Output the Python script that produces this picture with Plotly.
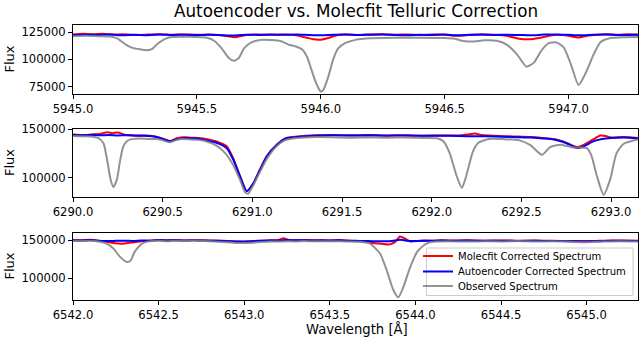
import plotly.graph_objects as go

# ---------------- Panel 1 (5945.0 - 5947.28 A) ----------------
p1_obs_wl = [5945.00, 5945.05, 5945.10, 5945.15, 5945.18, 5945.21, 5945.24, 5945.27, 5945.30, 5945.32,
             5945.34, 5945.37, 5945.40, 5945.45, 5945.50, 5945.54, 5945.57, 5945.60, 5945.63, 5945.65,
             5945.67, 5945.69, 5945.72, 5945.76, 5945.80, 5945.84, 5945.87, 5945.90, 5945.925, 5945.945,
             5945.96, 5945.975, 5945.99, 5946.00, 5946.01, 5946.03, 5946.05, 5946.07, 5946.10, 5946.14,
             5946.20, 5946.30, 5946.40, 5946.50, 5946.54, 5946.57, 5946.61, 5946.66, 5946.71, 5946.75,
             5946.79, 5946.83, 5946.86, 5946.89, 5946.92, 5946.95, 5946.98, 5947.01, 5947.04, 5947.07,
             5947.10, 5947.13, 5947.17, 5947.22, 5947.28]
p1_obs_fx = [121300, 121600, 121200, 120800, 119000, 114000, 110500, 109200, 108400, 109500,
             114000, 118500, 120400, 120600, 120500, 119800, 117000, 110000, 101000, 98700,
             101500, 110000, 115500, 117800, 117600, 116500, 113500, 111700, 109000, 102000,
             92000, 82000, 74000, 70500, 72000, 84000, 100000, 110000, 115000, 117800,
             119200, 119700, 119800, 119500, 118800, 117000, 116200, 117400, 117000, 113500,
             105000, 93300, 97000, 108000, 114800, 115500, 111000, 95000, 76500, 88000,
             104000, 116000, 119500, 120300, 120500]

p1_ae_wl = [5945.00, 5945.05, 5945.10, 5945.15, 5945.20, 5945.25, 5945.30, 5945.35, 5945.40, 5945.45,
            5945.50, 5945.55, 5945.60, 5945.65, 5945.70, 5945.75, 5945.80, 5945.85, 5945.90, 5945.95,
            5946.00, 5946.05, 5946.10, 5946.15, 5946.20, 5946.25, 5946.30, 5946.35, 5946.40, 5946.45,
            5946.50, 5946.55, 5946.60, 5946.65, 5946.70, 5946.75, 5946.80, 5946.85, 5946.90, 5946.95,
            5947.00, 5947.05, 5947.10, 5947.15, 5947.20, 5947.28]
p1_ae_fx = [122200, 122500, 122300, 122600, 122000, 122400, 122100, 122700, 122300, 122500,
            122200, 122400, 122000, 121800, 122500, 122300, 122600, 122400, 122700, 122300,
            122000, 122400, 122600, 122200, 122500, 122700, 122300, 122100, 122400, 122300,
            122600, 122000, 122400, 122700, 122300, 122500, 122200, 122000, 122600, 122800,
            122400, 122000, 122500, 122700, 122300, 122500]

p1_mf_wl = [5945.00, 5945.04, 5945.08, 5945.12, 5945.16, 5945.20, 5945.25, 5945.30, 5945.35, 5945.40,
            5945.45, 5945.50, 5945.55, 5945.60, 5945.65, 5945.70, 5945.75, 5945.80, 5945.85, 5945.90,
            5945.94, 5945.97, 5946.00, 5946.03, 5946.06, 5946.10, 5946.15, 5946.20, 5946.25, 5946.30,
            5946.35, 5946.40, 5946.45, 5946.50, 5946.55, 5946.60, 5946.65, 5946.70, 5946.75, 5946.80,
            5946.84, 5946.88, 5946.92, 5946.96, 5947.00, 5947.04, 5947.08, 5947.12, 5947.16, 5947.20,
            5947.24, 5947.28]
p1_mf_fx = [122800, 123300, 122900, 123400, 122600, 122900, 122300, 122600, 123000, 122500,
            122800, 122400, 122700, 122000, 120300, 122200, 122800, 122400, 122700, 122000,
            120000, 118300, 118000, 119500, 121800, 122600, 122300, 122800, 123000, 122500,
            122700, 122300, 122600, 122400, 121600, 122300, 122700, 122400, 121500, 118800,
            118300, 119500, 121600, 122400, 121500, 120000, 121800, 122500, 122900, 122400,
            123000, 122600]

# ---------------- Panel 2 (6290.0 - 6293.15 A) ----------------
p2_obs_wl = [6290.00, 6290.05, 6290.10, 6290.14, 6290.17, 6290.19, 6290.21, 6290.225, 6290.245, 6290.262,
             6290.28, 6290.30, 6290.32, 6290.37, 6290.42, 6290.47, 6290.51, 6290.54, 6290.57, 6290.60,
             6290.65, 6290.70, 6290.75, 6290.80, 6290.85, 6290.89, 6290.93, 6290.96, 6290.975, 6291.00,
             6291.04, 6291.08, 6291.13, 6291.18, 6291.25, 6291.35, 6291.45, 6291.55, 6291.65, 6291.75,
             6291.85, 6291.95, 6292.03, 6292.065, 6292.10, 6292.14, 6292.168, 6292.19, 6292.23, 6292.26,
             6292.32, 6292.40, 6292.49, 6292.55, 6292.614, 6292.66, 6292.72, 6292.79, 6292.865, 6292.89,
             6292.92, 6292.958, 6292.995, 6293.03, 6293.07, 6293.15]
p2_obs_fx = [143100, 142800, 142600, 141000, 135500, 118300, 97600, 90100, 98000, 117000,
             132000, 137500, 139500, 140500, 140000, 139800, 138000, 136500, 138500, 139800,
             139500, 139000, 137000, 133000, 125000, 114000, 98000, 84500, 83000, 90000,
             105000, 119000, 131500, 138500, 141000, 142000, 141800, 141300, 141600, 141200,
             141500, 141000, 140700, 137500, 125200, 101000, 89000, 100000, 127000, 136000,
             140000, 139800, 138500, 133500, 123500, 131500, 134000, 131000, 130500, 123000,
             102000, 82100, 98000, 125000, 135000, 139500]

p2_ae_wl = [6290.00, 6290.05, 6290.10, 6290.15, 6290.20, 6290.25, 6290.30, 6290.35, 6290.40, 6290.45,
            6290.50, 6290.54, 6290.58, 6290.62, 6290.66, 6290.70, 6290.75, 6290.80, 6290.857, 6290.894,
            6290.931, 6290.969, 6291.006, 6291.043, 6291.08, 6291.136, 6291.19, 6291.25, 6291.35, 6291.45,
            6291.55, 6291.65, 6291.75, 6291.85, 6291.95, 6292.05, 6292.15, 6292.25, 6292.35, 6292.45,
            6292.55, 6292.62, 6292.68, 6292.73, 6292.78, 6292.81, 6292.85, 6292.90, 6292.95, 6293.00,
            6293.07, 6293.15]
p2_ae_fx = [144100, 143900, 144200, 143800, 144000, 143600, 143800, 143400, 143200, 142500,
            140000, 137500, 139800, 141000, 140700, 140200, 138000, 136000, 130400, 118300,
            101000, 85600, 94200, 108000, 121700, 133800, 140700, 142000, 143300, 143800,
            143500, 143700, 143400, 143600, 143200, 143300, 143000, 142700, 142600, 142000,
            141500, 140500, 139500, 137000, 133000, 130500, 132500, 137500, 140000, 141000,
            141500, 140500]

p2_mf_wl = [6290.00, 6290.05, 6290.10, 6290.15, 6290.19, 6290.22, 6290.25, 6290.29, 6290.35, 6290.40,
            6290.45, 6290.50, 6290.54, 6290.58, 6290.62, 6290.66, 6290.70, 6290.75, 6290.80, 6290.857,
            6290.894, 6290.931, 6290.969, 6291.006, 6291.043, 6291.08, 6291.136, 6291.19, 6291.25, 6291.35,
            6291.45, 6291.55, 6291.65, 6291.75, 6291.85, 6291.95, 6292.05, 6292.15, 6292.20, 6292.24,
            6292.28, 6292.35, 6292.45, 6292.55, 6292.62, 6292.68, 6292.73, 6292.78, 6292.81, 6292.85,
            6292.90, 6292.94, 6292.97, 6293.00, 6293.07, 6293.15]
p2_mf_fx = [144500, 144000, 144600, 145200, 146800, 146000, 146700, 144300, 143600, 143500,
            142700, 140300, 137800, 140600, 141800, 141200, 141000, 139800, 137500, 132500,
            119500, 101500, 85800, 94000, 108500, 122000, 134000, 141000, 142500, 143800,
            144200, 143700, 144000, 143600, 143800, 143400, 143600, 143500, 144500, 145600,
            144000, 143200, 142600, 142000, 141000, 140000, 137500, 133500, 131500, 134000,
            139500, 143500, 143000, 141500, 142000, 141000]

# ---------------- Panel 3 (6542.0 - 6545.3 A) ----------------
p3_obs_wl = [6542.00, 6542.05, 6542.10, 6542.15, 6542.197, 6542.236, 6542.275, 6542.313, 6542.335, 6542.36,
             6542.40, 6542.44, 6542.50, 6542.55, 6542.60, 6542.65, 6542.70, 6542.75, 6542.80, 6542.85,
             6542.90, 6542.95, 6543.00, 6543.05, 6543.10, 6543.15, 6543.20, 6543.25, 6543.30, 6543.35,
             6543.40, 6543.45, 6543.50, 6543.60, 6543.68, 6543.735, 6543.793, 6543.832, 6543.871, 6543.90,
             6543.93, 6543.97, 6544.01, 6544.05, 6544.08, 6544.12, 6544.20, 6544.30, 6544.40, 6544.50,
             6544.60, 6544.70, 6544.80, 6544.90, 6545.00, 6545.10, 6545.20, 6545.30]
p3_obs_fx = [149500, 149000, 149200, 148500, 145600, 139200, 128200, 121700, 123000, 134700,
             145000, 148500, 149300, 148800, 149500, 149000, 149800, 149200, 148800, 148000,
             147500, 146500, 146300, 146800, 147800, 148500, 148200, 148800, 148500, 148900,
             148600, 148800, 148700, 148500, 148000, 145600, 132600, 110800, 84800, 75200,
             89000, 115200, 134700, 143500, 147000, 148300, 148800, 148200, 148800, 148400,
             148900, 148300, 148600, 148000, 147500, 148200, 148600, 148200]

p3_ae_wl = [6542.00, 6542.05, 6542.10, 6542.15, 6542.20, 6542.25, 6542.30, 6542.35, 6542.40, 6542.45,
            6542.50, 6542.55, 6542.60, 6542.65, 6542.70, 6542.75, 6542.80, 6542.85, 6542.90, 6542.95,
            6543.00, 6543.05, 6543.10, 6543.15, 6543.20, 6543.25, 6543.30, 6543.35, 6543.40, 6543.45,
            6543.50, 6543.55, 6543.60, 6543.65, 6543.70, 6543.75, 6543.80, 6543.85, 6543.88, 6543.91,
            6543.94, 6543.97, 6544.00, 6544.05, 6544.10, 6544.15, 6544.20, 6544.30, 6544.40, 6544.50,
            6544.60, 6544.70, 6544.80, 6544.90, 6545.00, 6545.05, 6545.10, 6545.20, 6545.30]
p3_ae_fx = [150000, 149600, 150200, 149300, 149000, 149200, 149400, 149100, 149600, 149500,
            150200, 149800, 150100, 149600, 150000, 149700, 149500, 149200, 148800, 148500,
            148300, 148700, 149300, 149800, 149600, 150200, 149900, 150100, 149700, 149900,
            149600, 150000, 149500, 149300, 149000, 148800, 148600, 148700, 149600, 150500,
            149800, 148900, 149100, 149400, 149200, 149700, 149400, 149600, 149300, 149500,
            149100, 149300, 149000, 148800, 148500, 148600, 149000, 149300, 149100]

p3_mf_wl = [6542.00, 6542.05, 6542.10, 6542.15, 6542.20, 6542.25, 6542.28, 6542.32, 6542.36, 6542.40,
            6542.45, 6542.50, 6542.55, 6542.60, 6542.65, 6542.70, 6542.75, 6542.80, 6542.85, 6542.90,
            6542.95, 6543.00, 6543.05, 6543.10, 6543.15, 6543.20, 6543.23, 6543.26, 6543.30, 6543.35,
            6543.40, 6543.45, 6543.50, 6543.55, 6543.60, 6543.65, 6543.70, 6543.75, 6543.80, 6543.85,
            6543.88, 6543.91, 6543.94, 6543.97, 6544.00, 6544.05, 6544.10, 6544.15, 6544.20, 6544.30,
            6544.40, 6544.50, 6544.60, 6544.70, 6544.80, 6544.90, 6545.00, 6545.05, 6545.10, 6545.20,
            6545.30]
p3_mf_fx = [150300, 149900, 150500, 149500, 147800, 146000, 145500, 146500, 147500, 148800,
            149600, 150400, 149900, 150300, 149700, 150200, 149900, 149600, 149500, 149000,
            148400, 148000, 148900, 149500, 150000, 150400, 152600, 150300, 150000, 150300,
            149900, 150100, 149800, 150200, 149600, 149100, 148000, 146500, 145500, 144600,
            147500, 155000, 152000, 148300, 148800, 149600, 149400, 149900, 149600, 149900,
            149500, 149800, 149300, 149600, 149200, 149000, 148900, 149100, 149400, 149600,
            149300]

panels = [
    dict(mf=(p1_mf_wl, p1_mf_fx), ae=(p1_ae_wl, p1_ae_fx), obs=(p1_obs_wl, p1_obs_fx),
         xr=[5945.0, 5947.28], yr=[68300, 131400], yt=[75000, 100000, 125000],
         xt=[5945.0, 5945.5, 5946.0, 5946.5, 5947.0], dom=[25, 94]),
    dict(mf=(p2_mf_wl, p2_mf_fx), ae=(p2_ae_wl, p2_ae_fx), obs=(p2_obs_wl, p2_obs_fx),
         xr=[6290.0, 6293.15], yr=[79700, 150300], yt=[100000, 150000],
         xt=[6290.0, 6290.5, 6291.0, 6291.5, 6292.0, 6292.5, 6293.0], dom=[129, 197]),
    dict(mf=(p3_mf_wl, p3_mf_fx), ae=(p3_ae_wl, p3_ae_fx), obs=(p3_obs_wl, p3_obs_fx),
         xr=[6542.0, 6545.3], yr=[71700, 159500], yt=[100000, 150000],
         xt=[6542.0, 6542.5, 6543.0, 6543.5, 6544.0, 6544.5, 6545.0], dom=[233, 300]),
]

W, H = 640, 339
FONT = "DejaVu Sans"
fig = go.Figure()

names = [("mf", "Molecfit Corrected Spectrum", "#ff0000", 1.0, "legend", 256),
         ("ae", "Autoencoder Corrected Spectrum", "#0000ff", 1.0, "legend2", 271.5),
         ("obs", "Observed Spectrum", "#808080", 0.85, "legend3", 286)]

layout = dict(
    template="none",
    width=W, height=H, margin=dict(l=0, r=0, t=0, b=0, pad=0, autoexpand=False),
    paper_bgcolor="white", plot_bgcolor="white",
    font=dict(family=FONT, size=11.5, color="black"),
    showlegend=True,
    annotations=[],
    shapes=[dict(type="rect", xref="paper", yref="paper", layer="above",
                 x0=426.5 / W, x1=633 / W, y0=1 - 295.5 / H, y1=1 - 248 / H,
                 fillcolor="rgba(255,255,255,0.8)", line=dict(color="#cccccc", width=1))],
)
for key, label, col, op, lg, yc in names:
    layout[lg] = dict(x=418 / W, xanchor="left", y=1 - yc / H, yanchor="middle",
                      bgcolor="rgba(0,0,0,0)", borderwidth=0,
                      font=dict(size=10, family=FONT, color="black"), itemwidth=30)

for i, p in enumerate(panels):
    n = "" if i == 0 else str(i + 1)
    for key, label, col, op, lg, yc in names:
        wl, fx = p[key]
        fig.add_trace(go.Scatter(
            x=wl, y=fx, mode="lines", name=label, xaxis="x" + n, yaxis="y" + n,
            line=dict(color=col, width=2, shape="spline", smoothing=0.6), opacity=op,
            showlegend=(i == 2), legend=lg, hoverinfo="skip"))
    top, bot = p["dom"]
    layout["xaxis" + n] = dict(
        domain=[73 / W, 638 / W], range=p["xr"], anchor="y" + n, automargin=False,
        tickvals=p["xt"], ticktext=["%.1f" % v for v in p["xt"]],
        showline=True, mirror=True, linecolor="black", linewidth=1,
        ticks="outside", ticklen=4, tickcolor="black", showgrid=False, zeroline=False,
        tickfont=dict(size=11.6))
    layout["yaxis" + n] = dict(
        domain=[1 - bot / H, 1 - top / H], range=p["yr"], anchor="x" + n, automargin=False,
        tickvals=p["yt"], ticktext=[str(v) for v in p["yt"]],
        showline=True, mirror=True, linecolor="black", linewidth=1,
        ticks="outside", ticklen=4, tickcolor="black", showgrid=False, zeroline=False,
        tickfont=dict(size=11.6))
    layout["annotations"].append(dict(
        text="Flux", x=9 / W, y=1 - (top + bot) / 2 / H, xref="paper", yref="paper",
        showarrow=False, textangle=-90, font=dict(size=13), xanchor="center", yanchor="middle"))

layout["annotations"].append(dict(
    text="Autoencoder vs. Molecfit Telluric Correction", x=356 / W, y=1 - 10.5 / H,
    xref="paper", yref="paper", showarrow=False, font=dict(size=16.8),
    xanchor="center", yanchor="middle"))
layout["annotations"].append(dict(
    text="Wavelength [Å]", x=356.5 / W, y=1 - 328.5 / H,
    xref="paper", yref="paper", showarrow=False, font=dict(size=13.2),
    xanchor="center", yanchor="middle"))

fig.update_layout(**layout)
fig.write_html("out.html", config={"displayModeBar": False},
               post_script="document.body.style.margin='0';")
